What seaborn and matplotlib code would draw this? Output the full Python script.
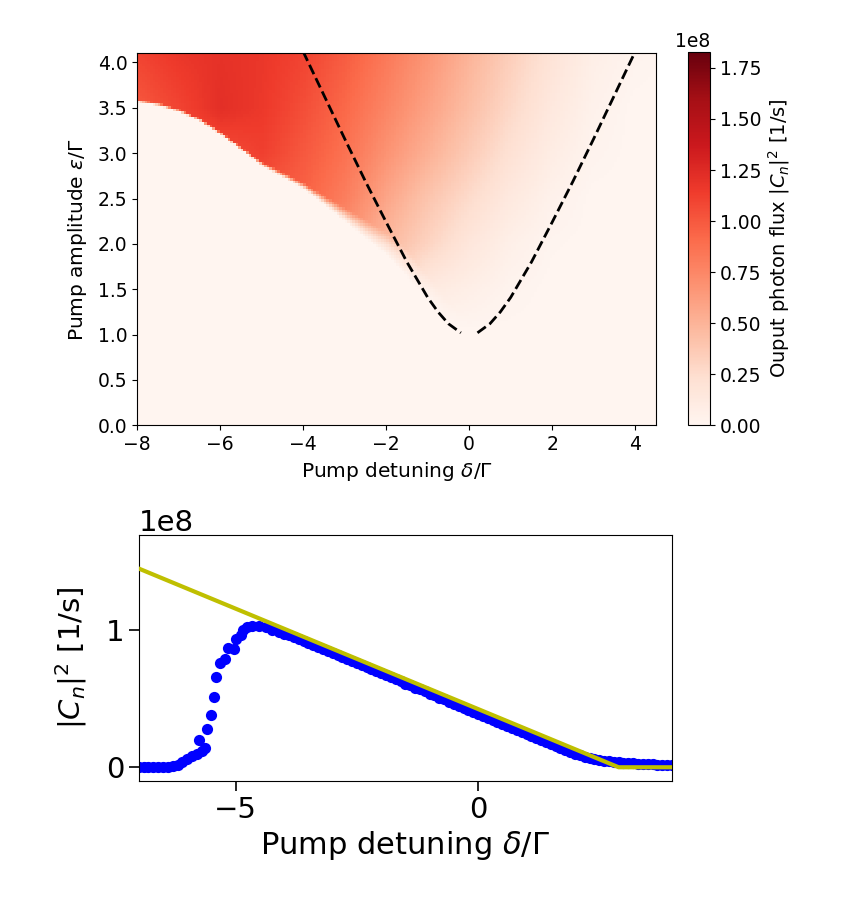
import numpy as np
import matplotlib
matplotlib.use("Agg")
import matplotlib.pyplot as plt
import seaborn as sns

# ---- top panel: output photon flux map (values in units of 1e8 1/s) ----
delta_nodes = [-8, -7, -6, -5, -4, -3, -2, -1, 0, 1, 2, 3, 4, 4.5]
eps_nodes = [1.0, 1.5, 2.0, 2.5, 3.0, 3.5, 4.1]
flux_eps_10 = [0, 0, 0, 0, 0, 0, 0, 0, 0, 0, 0, 0, 0, 0]
flux_eps_15 = [0.9, 0.9, 0.9, 0.85, 0.7, 0.5, 0.3, 0.12, 0.07, 0.02, 0, 0, 0, 0]
flux_eps_20 = [0.95, 0.95, 0.95, 0.9, 0.82, 0.68, 0.47, 0.31, 0.16, 0.06, 0.01, 0, 0, 0]
flux_eps_25 = [1.0, 1.0, 1.0, 1.0, 0.95, 0.8, 0.58, 0.40, 0.26, 0.13, 0.04, 0, 0, 0]
flux_eps_30 = [1.0, 1.0, 1.05, 1.12, 1.0, 0.87, 0.68, 0.52, 0.36, 0.21, 0.09, 0.02, 0, 0]
flux_eps_35 = [1.0, 1.1, 1.22, 1.16, 1.05, 0.92, 0.76, 0.60, 0.44, 0.28, 0.14, 0.04, 0, 0]
flux_eps_41 = [1.1, 1.17, 1.2, 1.17, 1.1, 0.98, 0.83, 0.67, 0.50, 0.34, 0.19, 0.07, 0.02, 0.01]

# lower edge of the bright (oscillating) region and how soft that edge is
edge_delta = [-8, -7.5, -7, -6.5, -6, -5.5, -5, -4.5, -4, -3.5, -3, -2.5, -2, -1.5, -1, -0.5, 0, 4.5]
edge_eps = [3.58, 3.54, 3.47, 3.37, 3.22, 3.05, 2.88, 2.76, 2.64, 2.48, 2.32, 2.16, 2.0, 1.78, 1.5, 1.2, 1.0, 1.0]
edge_soft = [0.03, 0.03, 0.03, 0.03, 0.03, 0.03, 0.04, 0.05, 0.06, 0.1, 0.15, 0.2, 0.25, 0.3, 0.3, 0.3, 0.3, 0.3]

# dashed threshold curve
left_delta = [-4.0, -3.5, -3.0, -2.5, -2.0, -1.5, -1.0, -0.75, -0.5, -0.2]
left_eps = [4.12, 3.64, 3.16, 2.69, 2.24, 1.80, 1.41, 1.25, 1.12, 1.02]
right_delta = [0.2, 0.5, 0.75, 1.0, 1.5, 2.0, 2.5, 3.0, 3.5, 4.0]
right_eps = [1.02, 1.12, 1.25, 1.41, 1.80, 2.24, 2.69, 3.16, 3.64, 4.12]

# ---- bottom panel: cut through the map (units of 1e8 1/s) ----
cut_delta = [-7.0, -6.9, -6.8, -6.7, -6.6, -6.5, -6.4, -6.3, -6.2, -6.1, -6.0, -5.9,
             -5.8, -5.75, -5.7, -5.64, -5.6, -5.5, -5.45, -5.4, -5.32, -5.23, -5.15,
             -5.04, -5.0, -4.9, -4.85, -4.77, -4.66, -4.52, -4.38, -4.25, -4.11, -4.0,
             -3.9, -3.8, -3.7, -3.6, -3.5, -3.4, -3.3, -3.2, -3.1, -3.0,
             -2.9, -2.8, -2.7, -2.6, -2.5, -2.4, -2.3, -2.2, -2.1, -2.0,
             -1.9, -1.8, -1.7, -1.6, -1.5, -1.4, -1.3, -1.2, -1.1, -1.0,
             -0.9, -0.8, -0.7, -0.6, -0.5, -0.4, -0.3, -0.2, -0.1, 0.0,
             0.1, 0.2, 0.3, 0.4, 0.5, 0.6, 0.7, 0.8, 0.9, 1.0,
             1.1, 1.2, 1.3, 1.4, 1.5, 1.6, 1.7, 1.8, 1.9, 2.0,
             2.1, 2.2, 2.3, 2.4, 2.5, 2.6, 2.7, 2.8, 2.9, 3.0,
             3.1, 3.2, 3.3, 3.4, 3.5, 3.6, 3.7, 3.8, 3.9, 4.0]
cut_flux = [0.0, 0.0, 0.0, 0.0, 0.0, 0.0, 0.002, 0.008, 0.015, 0.035, 0.06, 0.08,
            0.10, 0.20, 0.12, 0.14, 0.28, 0.38, 0.51, 0.66, 0.76, 0.79, 0.87,
            0.86, 0.93, 0.96, 1.0, 1.02, 1.024, 1.024, 1.017, 1.0, 0.985, 0.97,
            0.960, 0.945, 0.931, 0.916, 0.901, 0.887, 0.872, 0.858, 0.843, 0.828,
            0.814, 0.799, 0.785, 0.770, 0.755, 0.741, 0.726, 0.712, 0.697, 0.682,
            0.668, 0.653, 0.639, 0.624, 0.609, 0.595, 0.580, 0.566, 0.551, 0.536,
            0.522, 0.507, 0.493, 0.478, 0.463, 0.449, 0.434, 0.420, 0.405, 0.390,
            0.376, 0.361, 0.347, 0.332, 0.317, 0.303, 0.288, 0.274, 0.259, 0.244,
            0.230, 0.215, 0.201, 0.186, 0.171, 0.157, 0.142, 0.128, 0.114, 0.100,
            0.088, 0.077, 0.067, 0.059, 0.052, 0.047, 0.043, 0.040, 0.037, 0.034,
            0.031, 0.029, 0.027, 0.025, 0.023, 0.021, 0.019, 0.018, 0.016, 0.015]
fit_delta = [-7.0, 2.9, 4.0]
fit_flux = [1.445, 0.0, 0.0]

sns.set_style("ticks", {"axes.edgecolor": "black", "text.color": "black",
                        "xtick.color": "black", "ytick.color": "black",
                        "axes.labelcolor": "black"})
plt.rcParams['font.family'] = ['DejaVu Sans']

fig = plt.figure(figsize=(8.41, 9.05), dpi=100)
ax1 = fig.add_axes([0.163, 0.530, 0.617, 0.411])
cax = fig.add_axes([0.818, 0.530, 0.026, 0.413])
ax2 = fig.add_axes([0.165, 0.137, 0.634, 0.272])

# build the image table from the node readings
d_fine = np.linspace(-8, 4.5, 200)
e_fine = np.linspace(0, 4.1, 140)
table = [flux_eps_10, flux_eps_15, flux_eps_20, flux_eps_25, flux_eps_30, flux_eps_35, flux_eps_41]
rows = np.array([np.interp(d_fine, delta_nodes, r) for r in table])
field = np.array([np.interp(e_fine, eps_nodes, rows[:, j]) for j in range(len(d_fine))]).T
edge = np.interp(d_fine, edge_delta, edge_eps)
soft = np.interp(d_fine, edge_delta, edge_soft)
step = np.clip((e_fine[:, None] - edge[None, :]) / soft[None, :] + 0.5, 0, 1)
field = field * step * 1e8

im = ax1.imshow(field, origin='lower', extent=[-8, 4.5, 0, 4.1], aspect='auto',
                cmap='Reds', vmin=0, vmax=1.83e8, interpolation='nearest')
ax1.plot(left_delta, left_eps, 'k--', lw=2)
ax1.plot(right_delta, right_eps, 'k--', lw=2)
ax1.set_xlim(-8, 4.5)
ax1.set_ylim(0, 4.1)
ax1.set_xticks([-8, -6, -4, -2, 0, 2, 4])
ax1.set_yticks(np.arange(0, 4.01, 0.5))
ax1.tick_params(labelsize=13.5)
ax1.set_xlabel(r"Pump detuning $\delta/\Gamma$", fontsize=14.5)
ax1.set_ylabel(r"Pump amplitude $\epsilon/\Gamma$", fontsize=14.5, labelpad=6)

cb = fig.colorbar(im, cax=cax)
cb.set_ticks(np.arange(0, 1.76e8, 0.25e8))
cb.ax.tick_params(labelsize=13.5)
cb.ax.yaxis.get_offset_text().set_fontsize(13.5)
cb.set_label(r"Ouput photon flux $|C_n|^2$ [1/s]", fontsize=14)

# bottom cut
sns.scatterplot(x=cut_delta, y=np.array(cut_flux) * 1e8, ax=ax2, color='b',
                s=65, linewidth=0, zorder=2)
sns.lineplot(x=fit_delta, y=np.array(fit_flux) * 1e8, ax=ax2, color='y',
             lw=3, zorder=3)
ax2.set_xlim(-7, 4)
ax2.set_ylim(-0.1e8, 1.69e8)
ax2.set_xticks([-5, 0])
ax2.set_yticks([0, 1e8])
ax2.tick_params(labelsize=21, length=7, width=1.2)
ax2.yaxis.get_offset_text().set_fontsize(21)
ax2.set_xlabel(r"Pump detuning $\delta/\Gamma$", fontsize=22)
ax2.set_ylabel(r"$|C_n|^2$ [1/s]", fontsize=21, labelpad=12)

fig.savefig("out.png", dpi=100)
